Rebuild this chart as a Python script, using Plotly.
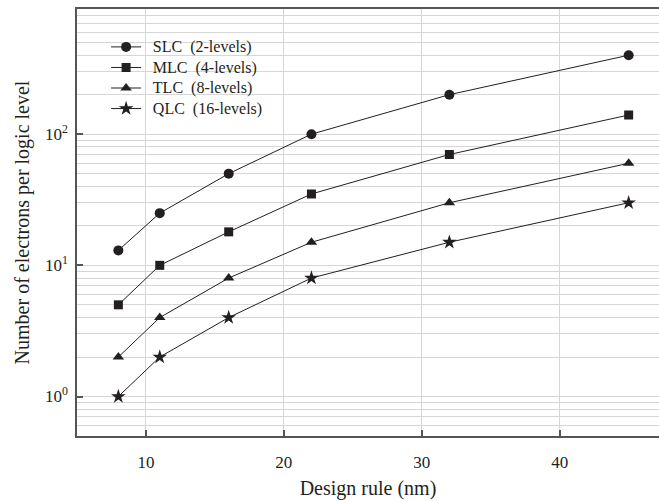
import numpy as np
import plotly.graph_objects as go

design_rule = [8, 11, 16, 22, 32, 45]
slc = [13, 25, 50, 100, 200, 400]
mlc = [5, 10, 18, 35, 70, 140]
tlc = [2, 4, 8, 15, 30, 60]
qlc = [1, 2, 4, 8, 15, 30]

series_names = ["SLC\u00a0 (2-levels)", "MLC\u00a0 (4-levels)",
                "TLC\u00a0 (8-levels)", "QLC\u00a0 (16-levels)"]
y_tick_vals = [1, 10, 100]
y_tick_text = ["10<sup>0</sup>", "10<sup>1</sup>", "10<sup>2</sup>"]
x_tick_vals = [10, 20, 30, 40]

series = [
    (series_names[0], slc, "circle", 10),
    (series_names[1], mlc, "square", 9),
    (series_names[2], tlc, "triangle-up", 10),
    (series_names[3], qlc, "star", 11),
]

ink = "#231f20"
axis_col = "#555555"
grid_col = "#d6d6d6"
font = "Liberation Serif, Times New Roman, serif"

fig = go.Figure()
for name, vals, sym, size in series:
    # legend label rendered at 16px while the legend row height follows the smaller base font
    label = "\u00a0\u00a0<span style='font-size:16px'>" + name + "</span>"
    fig.add_trace(go.Scatter(
        x=design_rule, y=vals, name=label, mode="lines+markers",
        line=dict(color=ink, width=1),
        marker=dict(symbol=sym, size=size, color=ink, line=dict(width=0)),
    ))

fig.update_layout(
    width=659, height=501,
    margin=dict(l=77, r=0, t=9, b=65),
    paper_bgcolor="white", plot_bgcolor="white",
    font=dict(family=font, size=16, color=ink),
    showlegend=True,
    legend=dict(
        x=0.05, y=0.947, xanchor="left", yanchor="top",
        bgcolor="rgba(0,0,0,0)", borderwidth=0,
        font=dict(family=font, size=13.5, color=ink),
        tracegroupgap=0,
    ),
)

fig.update_xaxes(
    range=[5, 47.2], tickvals=x_tick_vals,
    ticks="inside", ticklen=6, tickcolor=axis_col, tickwidth=1.5,
    showline=True, linecolor=axis_col, linewidth=1.5, mirror=True,
    showgrid=True, gridcolor=grid_col, gridwidth=1,
    zeroline=False, ticklabelstandoff=10,
    tickfont=dict(family=font, size=17, color=ink),
    title=dict(text="Design rule (nm)", font=dict(family=font, size=20, color=ink), standoff=10),
)

fig.update_yaxes(
    type="log", range=[np.log10(0.5), np.log10(900)],
    tickvals=y_tick_vals, ticktext=y_tick_text,
    ticks="inside", ticklen=6, tickcolor=axis_col, tickwidth=1.5,
    showline=True, linecolor=axis_col, linewidth=1.5,
    showgrid=True, gridcolor=grid_col, gridwidth=1,
    minor=dict(showgrid=True, gridcolor=grid_col, gridwidth=1,
               tickvals=[m * 10 ** e for e in range(-1, 3) for m in range(2, 10)]),
    zeroline=False, ticklabelstandoff=4,
    tickfont=dict(family=font, size=17, color=ink),
    title=dict(text="Number of electrons per logic level", font=dict(family=font, size=20, color=ink), standoff=10),
)

fig.write_html("out.html")
